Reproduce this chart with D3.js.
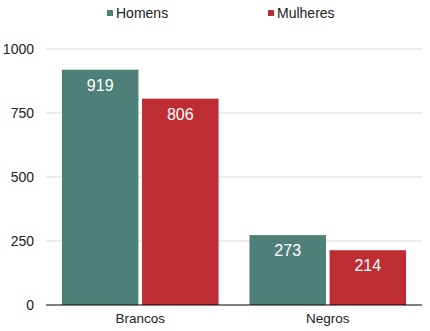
<!DOCTYPE html>
<html lang="pt">
<head>
    <meta charset="utf8">
    <title>Brancos e Negros</title>
    <script src="https://d3js.org/d3.v7.min.js"></script>
    <style>
        body { margin: 0; background: #fff; }
        svg { display: block; font-family: "Liberation Sans", Arial, sans-serif; }
    </style>
</head>
<body>
    <svg id="chart" width="430" height="331"></svg>
    <script>
        const categories = ["Brancos", "Negros"];
        const series = ["Homens", "Mulheres"];
        const homens = [919, 273];
        const mulheres = [806, 214];
        const yTicks = [0, 250, 500, 750, 1000];
        const colors = ["#4e8077", "#be2d33"];

        const svg = d3.select("#chart");
        const margin = { top: 49, right: 8, bottom: 26, left: 46 };
        const width = +svg.attr("width") - margin.left - margin.right;
        const height = +svg.attr("height") - margin.top - margin.bottom;

        const g = svg.append("g").attr("transform", `translate(${margin.left},${margin.top})`);

        const x0 = d3.scaleBand().domain(categories).range([0, width]).paddingInner(0.165).paddingOuter(0.085);
        const x1 = d3.scaleBand().domain(series).range([0, x0.bandwidth()]).paddingInner(0.045);
        const y = d3.scaleLinear().domain([0, 1000]).range([height, 0]);
        const color = d3.scaleOrdinal().domain(series).range(colors);

        // grid lines
        g.selectAll(".grid")
            .data(yTicks.filter(d => d > 0))
            .enter()
            .append("line")
            .attr("x1", 0).attr("x2", width)
            .attr("y1", d => y(d)).attr("y2", d => y(d))
            .attr("stroke", "#d9d9d9").attr("stroke-width", 1);

        // y labels
        g.selectAll(".ylab")
            .data(yTicks)
            .enter()
            .append("text")
            .attr("x", -12)
            .attr("y", d => y(d))
            .attr("dy", "0.35em")
            .attr("text-anchor", "end")
            .attr("font-size", 14)
            .attr("fill", "#222")
            .text(d => d);

        const rows = categories.map((c, i) => ({ cat: c, vals: [homens[i], mulheres[i]] }));

        const groups = g.selectAll(".grp")
            .data(rows)
            .enter()
            .append("g")
            .attr("transform", d => `translate(${x0(d.cat)},0)`);

        groups.selectAll("rect")
            .data(d => series.map((s, j) => ({ s, v: d.vals[j] })))
            .enter()
            .append("rect")
            .attr("x", d => x1(d.s))
            .attr("width", x1.bandwidth())
            .attr("y", d => y(d.v))
            .attr("height", d => height - y(d.v))
            .attr("fill", d => color(d.s));

        groups.selectAll(".val")
            .data(d => series.map((s, j) => ({ s, v: d.vals[j] })))
            .enter()
            .append("text")
            .attr("x", d => x1(d.s) + x1.bandwidth() / 2)
            .attr("y", d => y(d.v) + 21)
            .attr("text-anchor", "middle")
            .attr("font-size", 16)
            .attr("fill", "#fff")
            .text(d => d.v);

        // baseline
        g.append("line")
            .attr("x1", 0).attr("x2", width)
            .attr("y1", height).attr("y2", height)
            .attr("stroke", "#000").attr("stroke-width", 1.2);

        // category labels
        g.selectAll(".xlab")
            .data(categories)
            .enter()
            .append("text")
            .attr("x", d => x0(d) + x0.bandwidth() / 2)
            .attr("y", height + 18)
            .attr("text-anchor", "middle")
            .attr("font-size", 13.5)
            .attr("fill", "#222")
            .text(d => d);

        // legend
        const legX = [107, 268];
        const legend = svg.selectAll(".leg")
            .data(series)
            .enter()
            .append("g")
            .attr("transform", (d, i) => `translate(${legX[i]},6)`);
        legend.append("rect")
            .attr("x", 0).attr("y", 4)
            .attr("width", 6).attr("height", 6)
            .attr("fill", d => color(d));
        legend.append("text")
            .attr("x", 9).attr("y", 7)
            .attr("dy", "0.35em")
            .attr("font-size", 14)
            .attr("fill", "#222")
            .text(d => d);
    </script>
</body>
</html>
